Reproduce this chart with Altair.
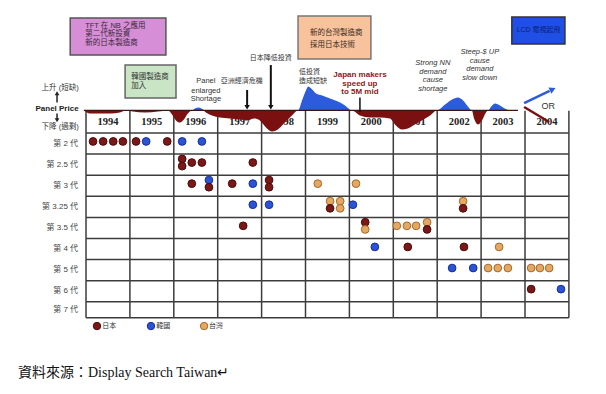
import altair as alt
import pandas as pd

# ---------------- data ----------------
YEARS = list(range(1994, 2005))
GENERATIONS = ["第 2 代", "第 2.5 代", "第 3 代", "第 3.25 代", "第 3.5 代",
               "第 4 代", "第 5 代", "第 6 代", "第 7 代"]
ROW_EDGES = [0, 1, 2, 3, 4, 5, 6, 7, 8, 8.76]

MAKERS = ["日本", "韓國", "台灣"]
MAKER_CODE = {"J": "日本", "K": "韓國", "T": "台灣"}
MAKER_FILL = ["#7A1717", "#2C52D6", "#E3A862"]
MAKER_STROKE = ["#4E0B0B", "#16309A", "#A8692A"]

# panel price cycle (positive = shortage / price up, negative = oversupply)
price_year = [1993.95, 1994.09, 1994.32, 1994.55, 1994.77, 1994.91, 1995.07, 1995.34,
              1995.64, 1995.87, 1995.96, 1996.05, 1996.14, 1996.23, 1996.32, 1996.41,
              1996.48, 1996.57, 1996.67, 1996.73, 1996.87, 1997.05, 1997.28, 1997.51,
              1997.67, 1997.83, 1997.96, 1998.10, 1998.24, 1998.37, 1998.53, 1998.69,
              1998.83, 1998.92, 1999.01, 1999.06, 1999.13, 1999.24, 1999.38, 1999.56,
              1999.74, 1999.90, 2000.06, 2000.24, 2000.47, 2000.70, 2000.92, 2001.06,
              2001.20, 2001.33, 2001.49, 2001.65, 2001.84, 2001.99, 2002.18, 2002.34,
              2002.47, 2002.59, 2002.70, 2002.79, 2002.84, 2002.93, 2003.02, 2003.11,
              2003.16, 2003.23, 2003.32, 2003.43, 2003.54, 2003.66, 2003.84]
price_value = [0, -3, -3, -3, -2, 0, -1, -2,
               -1, 0, -4, -10, -12, -9, -3, 0,
               2, 3, 1, -2, -5, -7, -8, -9,
               -10, -8, -10, -17, -21, -19, -12, -5,
               0, 10, 20, 24, 22, 17, 15, 12,
               9, 5, 0, -5, -7, -7, -8, -15,
               -19, -18, -14, -10, -5, 0, 6, 11,
               13, 10, 4, 0, -8, -14, -10, -2,
               0, 4, 7, 5, 2, 0, 0]

# new fabs: year, generation row, stacking slot, maker
fab_year = [
    1994.16, 1994.39, 1994.62, 1994.84, 1995.14, 1995.37, 1995.85, 1996.19, 1996.64,
    1996.19, 1996.19, 1996.41, 1996.64, 1997.80,
    1996.41, 1996.80, 1996.80, 1997.33, 1997.80, 1998.17, 1998.17, 1999.28, 2000.15,
    1997.80, 1998.17, 1999.56, 1999.56, 1999.79, 1999.79, 2000.08, 2002.59, 2002.59,
    1997.58, 2000.36, 2000.36, 2001.08, 2001.31, 2001.52, 2001.77, 2001.77,
    2000.58, 2001.33, 2002.61, 2003.41,
    2002.34, 2002.82, 2003.16, 2003.38, 2003.61, 2004.14, 2004.34, 2004.55,
    2004.14, 2004.82]
fab_gen = [0] * 9 + [1] * 5 + [2] * 9 + [3] * 9 + [4] * 8 + [5] * 4 + [6] * 8 + [7] * 2
fab_stack = ([0] * 9 + [-1, 1, 0, 0, 0] + [0, -1, 1, 0, 0, -1, 1, 0, 0]
             + [0, 0, -1, 1, -1, 1, 0, -1, 1] + [0, -1, 1, 0, 0, 0, -1, 1]
             + [0] * 4 + [0] * 8 + [0] * 2)
fab_maker = "JJJJJKJKK" + "JJJJJ" + "JKJJKJJTT" + "KKTJTTKTJ" + "JJTTTTTJ" + "KJJT" + "KKTTTTTT" + "JK"

# ---------------- scales ----------------
X0, X1 = 1992.223, 2005.663
Y0, Y1 = -5.924, 11.991
xs = alt.Scale(domain=[X0, X1], nice=False, zero=False)
ys = alt.Scale(domain=[Y0, Y1], nice=False, zero=False, reverse=True)
BASE = -1.07
PX = 21.1

CJK = "Noto Sans CJK TC"
SANS = "Liberation Sans, Noto Sans CJK TC"


def X(f="x"):
    return alt.X(f"{f}:Q", scale=xs, axis=None)


def Y(f="y"):
    return alt.Y(f"{f}:Q", scale=ys, axis=None)


def texts(xv, yv, tv, **kw):
    df = pd.DataFrame({"x": xv, "y": yv, "t": tv})
    return alt.Chart(df).mark_text(**kw).encode(x=X(), y=Y(), text="t:N")


def rules(x, y, x2, y2, **kw):
    df = pd.DataFrame({"x": x, "y": y, "x2": x2, "y2": y2})
    return alt.Chart(df).mark_rule(**kw).encode(
        x=X("x"), y=Y("y"), x2=alt.X2("x2:Q"), y2=alt.Y2("y2:Q"))


def rects(x, y, x2, y2, **kw):
    df = pd.DataFrame({"x": x, "y": y, "x2": x2, "y2": y2})
    return alt.Chart(df).mark_rect(**kw).encode(
        x=X("x"), y=Y("y"), x2=alt.X2("x2:Q"), y2=alt.Y2("y2:Q"))


def heads(x, y, **kw):
    df = pd.DataFrame({"x": x, "y": y})
    return alt.Chart(df).mark_point(filled=True, opacity=1, **kw).encode(x=X(), y=Y())


layers = []

# event boxes
layers.append(rects([1993.64], [-5.45], [1995.82], [-3.70], fill="#D68ED6", stroke="#555", strokeWidth=1.5))
layers.append(rects([1994.89], [-3.22], [1996.05], [-1.66], fill="#C9E5C6", stroke="#666", strokeWidth=1.5))
layers.append(rects([1998.83], [-5.55], [2000.49], [-3.51], fill="#F7C29C", stroke="#777", strokeWidth=1.5))
layers.append(rects([2003.70], [-5.50], [2004.91], [-4.22], fill="#1F4FE4", stroke="#333", strokeWidth=1.5))

layers.append(texts([1993.98] * 3, [-5.07, -4.69, -4.27],
                    ["TFT 在 NB 之應用", "第二代新投資", "新的日本製造商"],
                    align="left", baseline="middle", fontSize=7.5, font=SANS, color="#3a2a3a"))
layers.append(texts([1995.03] * 2, [-2.65, -2.23], ["韓國製造商", "加入"],
                    align="left", baseline="middle", fontSize=7.5, font=SANS, color="#333"))
layers.append(texts([1999.10] * 2, [-4.74, -4.17], ["新的台灣製造商", "採用日本技術"],
                    align="left", baseline="middle", fontSize=7.5, font=SANS, color="#3a2a20"))
layers.append(texts([2004.31], [-4.86], ["LCD 電視起飛"],
                    align="center", baseline="middle", fontSize=7, font=SANS, color="#0A2280"))

# grid
layers.append(rules([y for y in YEARS + [2005]], [-1.05] * 12, [y for y in YEARS + [2005]], [8.76] * 12,
                    color="#3c3c3c", strokeWidth=1.5))
layers.append(rules([1994] * len(ROW_EDGES), ROW_EDGES, [2005] * len(ROW_EDGES), ROW_EDGES,
                    color="#3c3c3c", strokeWidth=1.5))

# year labels
layers.append(texts([y + 0.5 for y in YEARS], [-0.5] * len(YEARS), [str(y) for y in YEARS],
                    align="center", baseline="middle", fontSize=10.5, fontWeight="bold",
                    font="Liberation Serif", color="#222"))

# generation labels
gen_mid = [(ROW_EDGES[i] + ROW_EDGES[i + 1]) / 2 for i in range(len(GENERATIONS))]
layers.append(texts([1993.82] * len(GENERATIONS), gen_mid, GENERATIONS,
                    align="right", baseline="middle", fontSize=8, font=SANS, color="#444"))

# panel price curve
price_df = pd.DataFrame({"year": price_year, "v": price_value})
pbase = alt.Chart(price_df).transform_calculate(
    up=f"{BASE} - max(datum.v, 0) / {PX}",
    dn=f"{BASE} - min(datum.v, 0) / {PX}",
    b=f"{BASE}")
layers.append(pbase.mark_area(color="#2D5BDC", interpolate="monotone").encode(
    x=X("year"), y=Y("up"), y2=alt.Y2("b:Q")))
layers.append(pbase.mark_area(color="#7A1010", interpolate="monotone").encode(
    x=X("year"), y=Y("dn"), y2=alt.Y2("b:Q")))
layers.append(rules([1993.95], [BASE], [2003.84], [BASE], color="#3a1515", strokeWidth=1.3))

# fab dots
fab_df = pd.DataFrame({
    "x": fab_year,
    "y": [g + 0.4 + s * 0.17 for g, s in zip(fab_gen, fab_stack)],
    "maker": [MAKER_CODE[m] for m in fab_maker],
})
fill_scale = alt.Scale(domain=MAKERS, range=MAKER_FILL)
stroke_scale = alt.Scale(domain=MAKERS, range=MAKER_STROKE)
layers.append(alt.Chart(fab_df).mark_point(shape="circle", filled=True, size=60, strokeWidth=1,
                                           opacity=1).encode(
    x=X(), y=Y(),
    fill=alt.Fill("maker:N", scale=fill_scale, legend=None),
    stroke=alt.Stroke("maker:N", scale=stroke_scale, legend=None)))

# legend
leg_df = pd.DataFrame({"x": [1994.25, 1995.48, 1996.69], "y": [9.15] * 3, "maker": MAKERS})
layers.append(alt.Chart(leg_df).mark_point(shape="circle", filled=True, size=55, strokeWidth=1,
                                           opacity=1).encode(
    x=X(), y=Y(),
    fill=alt.Fill("maker:N", scale=fill_scale, legend=None),
    stroke=alt.Stroke("maker:N", scale=stroke_scale, legend=None)))
layers.append(texts([1994.37, 1995.60, 1996.80], [9.15] * 3, MAKERS,
                    align="left", baseline="middle", fontSize=7, font=SANS, color="#333"))

# left price legend
layers.append(texts([1993.41, 1993.41], [-2.13, -0.28],
                    ["上升 (短缺)", "下降 (過剩)"],
                    align="center", baseline="middle", fontSize=7.5, font=SANS, color="#333"))
layers.append(texts([1993.34], [-1.16], ["Panel Price"],
                    align="center", baseline="middle", fontSize=8, fontWeight="bold",
                    font="Liberation Sans", color="#222"))
layers.append(rules([1993.34, 1993.34], [-1.45, -0.92], [1993.34, 1993.34], [-1.85, -0.62],
                    color="#222", strokeWidth=1.5))
layers.append(heads([1993.34], [-1.88], shape="triangle-up", size=22, color="#222"))
layers.append(heads([1993.34], [-0.6], shape="triangle-down", size=22, color="#222"))

# annotations
layers.append(texts([1996.73] * 3, [-2.46, -1.99, -1.61], ["Panel", "enlarged", "Shortage"],
                    align="center", baseline="middle", fontSize=7.5, font="Liberation Sans", color="#333"))
layers.append(texts([1997.55, 1998.21], [-2.46, -3.55], ["亞洲經濟危機", "日本降低投資"],
                    align="center", baseline="middle", fontSize=7, font=SANS, color="#333"))
layers.append(texts([1998.85, 1998.85], [-2.89, -2.46], ["低投資", "造成短缺"],
                    align="left", baseline="middle", fontSize=7, font=SANS, color="#333"))
layers.append(rules([1997.67, 1998.21], [-2.04, -3.22], [1997.67, 1998.21], [-1.3, -1.3],
                    color="#111", strokeWidth=2))
layers.append(heads([1997.67, 1998.21], [-1.22, -1.22], shape="triangle-down", size=30, color="#111"))

layers.append(texts([2000.24] * 3, [-2.75, -2.33, -1.94], ["Japan makers", "speed up", "to 5M mid"],
                    align="center", baseline="middle", fontSize=8, fontWeight="bold",
                    font="Liberation Sans", color="#8A1A1A"))
layers.append(rules([2000.24], [-1.68], [2000.24], [-1.0], color="#111", strokeWidth=1.5))

layers.append(texts([2001.90] * 4, [-3.32, -2.89, -2.51, -2.09],
                    ["Strong NN", "demand", "cause", "shortage"],
                    align="center", baseline="middle", fontSize=7.5, fontStyle="italic",
                    font="Liberation Sans", color="#333"))
layers.append(texts([2002.97] * 4, [-3.84, -3.41, -3.03, -2.61],
                    ["Steep-$ UP", "cause", "demand", "slow down"],
                    align="center", baseline="middle", fontSize=7.5, fontStyle="italic",
                    font="Liberation Sans", color="#333"))

# 2004 outlook arrows
layers.append(rules([2003.98], [-1.42], [2004.56], [-2.0], color="#2D5BDC", strokeWidth=2.5))
layers.append(heads([2004.61], [-2.05], shape="triangle", angle=65, size=50, color="#2D5BDC"))
layers.append(rules([2003.98], [-1.23], [2004.55], [-0.52], color="#7A1010", strokeWidth=2.5))
layers.append(texts([2004.53], [-1.28], ["OR"], align="center", baseline="middle",
                    fontSize=9, font="Liberation Sans", color="#333"))

# source line
layers.append(texts([1992.45], [11.37], ["資料來源：Display Search Taiwan↵"],
                    align="left", baseline="middle", fontSize=14,
                    font="Liberation Serif, Noto Sans CJK TC", color="#111"))

chart = alt.layer(*layers).properties(
    width=590, height=378, padding=0,
    autosize=alt.AutoSizeParams(type="none"),
    background="white",
).configure_view(stroke=None)

chart.save("out.html", embed_options={"renderer": "svg", "actions": False})
